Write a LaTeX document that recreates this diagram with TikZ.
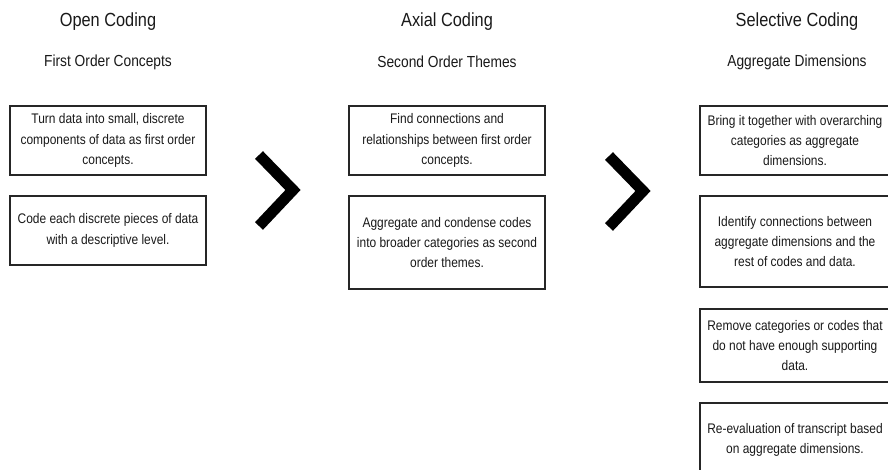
\documentclass[tikz,border=0pt]{standalone}
\usepackage{fontspec}
\setmainfont{Liberation Sans}[FakeStretch=0.86]
\begin{document}
\begin{tikzpicture}[x=1pt,y=-1pt,
  stagehead/.style={font=\fontsize{19}{22}\selectfont, text=black!90, inner sep=0pt},
  stagesub/.style={font=\fontsize{16}{19}\selectfont, text=black!90, inner sep=0pt},
  codebox/.style={draw=black!85, line width=1.6pt, rectangle, minimum width=196pt,
    inner sep=0pt, align=center, text=black!90,
    font=\fontsize{13.9}{20.3}\selectfont},
  chevron/.style={line width=11pt, line join=miter, draw=black}]
  \useasboundingbox (0,0) rectangle (888,470);
  \clip (0,0) rectangle (888,470);

  % stage headings
  \node[stagehead] (h1) at (108,22) {Open Coding};
  \node[stagesub]  (s1) at (108,62) {First Order Concepts};
  \node[stagehead] (h2) at (447,22) {Axial Coding};
  \node[stagesub]  (s2) at (447,62) {Second Order Themes};
  \node[stagehead] (h3) at (797,22) {Selective Coding};
  \node[stagesub]  (s3) at (797,62) {Aggregate Dimensions};

  % open coding steps
  \node[codebox, minimum height=69pt] (a1) at (108,140.5)
    {Turn data into small, discrete\\components of data as first order\\concepts.};
  \node[codebox, minimum height=69pt] (a2) at (108,230.5)
    {Code each discrete pieces of data\\with a descriptive level.};

  % axial coding steps
  \node[codebox, minimum height=69pt] (b1) at (447,140.5)
    {Find connections and\\relationships between first order\\concepts.};
  \node[codebox, minimum height=93pt] (b2) at (447,242.5)
    {Aggregate and condense codes\\into broader categories as second\\order themes.};

  % selective coding steps
  \node[codebox, minimum height=69pt, minimum width=190pt] (c1) at (795,140.5)
    {Bring it together with overarching\\categories as aggregate\\dimensions.};
  \node[codebox, minimum height=91pt, minimum width=190pt] (c2) at (795,241.5)
    {Identify connections between\\aggregate dimensions and the\\rest of codes and data.};
  \node[codebox, minimum height=73pt, minimum width=190pt] (c3) at (795,345.5)
    {Remove categories or codes that\\do not have enough supporting\\data.};
  \node[codebox, minimum height=74pt, minimum width=190pt] (c4) at (795,440)
    {Re-evaluation of transcript based\\on aggregate dimensions.};

  % chevrons between the stages
  \coordinate (k1a) at (259,155);
  \coordinate (k1b) at (293,190);
  \coordinate (k1c) at (259,226);
  \draw[chevron] (k1a) -- (k1b) -- (k1c);
  \coordinate (k2a) at (609,156);
  \coordinate (k2b) at (643,191);
  \coordinate (k2c) at (609,227);
  \draw[chevron] (k2a) -- (k2b) -- (k2c);
\end{tikzpicture}
\end{document}
